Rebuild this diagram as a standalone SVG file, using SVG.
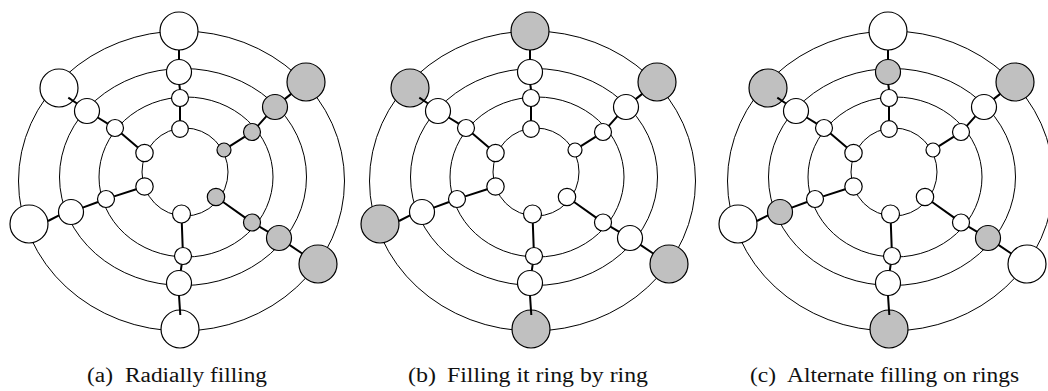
<svg xmlns="http://www.w3.org/2000/svg" width="1048" height="391" viewBox="0 0 1048 391">
  <style>
    .ring{fill:none;stroke:#000;stroke-width:1}
    .node circle{stroke:#000;stroke-width:1.2;fill:#fff}
    .node.full circle{fill:#c0c0c0}
    .spoke{fill:none;stroke:#000;stroke-width:2}
    .cap{font-family:"Liberation Serif","Times New Roman",serif;font-size:20px;fill:#111}
  </style>
  <rect width="1048" height="391" fill="#fff"/>

  <!-- (a) radial filling: the two right-hand spokes are filled -->
  <g id="fig-a">
    <g id="a-rings">
      <ellipse class="ring" cx="181.5" cy="181" rx="163" ry="150"/>
      <ellipse class="ring" cx="183" cy="177" rx="123.5" ry="108.5"/>
      <ellipse class="ring" cx="186" cy="177" rx="87" ry="80"/>
      <ellipse class="ring" cx="185" cy="172" rx="43" ry="44"/>
    </g>
    <g id="a-nodes">
      <g id="a-r1-t" class="node"><circle cx="180" cy="129" r="8.3"/></g>
      <g id="a-r1-ul" class="node"><circle cx="144.5" cy="153" r="8.7"/></g>
      <g id="a-r1-ll" class="node"><circle cx="144.5" cy="186.5" r="8.7"/></g>
      <g id="a-r1-b" class="node"><circle cx="181.5" cy="214" r="9"/></g>
      <g id="a-r1-lr" class="node full"><circle cx="216" cy="197" r="8.7"/></g>
      <g id="a-r1-ur" class="node full"><circle cx="224" cy="150" r="7"/></g>
      <g id="a-r2-t" class="node"><circle cx="180" cy="98" r="8.5"/></g>
      <g id="a-r2-ul" class="node"><circle cx="115" cy="128" r="8.5"/></g>
      <g id="a-r2-ll" class="node"><circle cx="106" cy="199" r="8.5"/></g>
      <g id="a-r2-b" class="node"><circle cx="183" cy="256" r="8.5"/></g>
      <g id="a-r2-lr" class="node full"><circle cx="252" cy="222.5" r="8.5"/></g>
      <g id="a-r2-ur" class="node full"><circle cx="252" cy="132" r="8.5"/></g>
      <g id="a-r3-t" class="node"><circle cx="179" cy="72" r="12.5"/></g>
      <g id="a-r3-ul" class="node"><circle cx="87" cy="111" r="12.5"/></g>
      <g id="a-r3-ll" class="node"><circle cx="71" cy="212" r="12.5"/></g>
      <g id="a-r3-b" class="node"><circle cx="179" cy="283" r="12.5"/></g>
      <g id="a-r3-lr" class="node full"><circle cx="279" cy="238" r="12.5"/></g>
      <g id="a-r3-ur" class="node full"><circle cx="275" cy="107" r="12.5"/></g>
      <g id="a-r4-t" class="node"><circle cx="179" cy="31" r="19"/></g>
      <g id="a-r4-ul" class="node"><circle cx="59" cy="88" r="19"/></g>
      <g id="a-r4-ll" class="node"><circle cx="29" cy="224" r="19"/></g>
      <g id="a-r4-b" class="node"><circle cx="180" cy="329" r="19"/></g>
      <g id="a-r4-lr" class="node full"><circle cx="318" cy="264" r="19"/></g>
      <g id="a-r4-ur" class="node full"><circle cx="306" cy="82" r="19"/></g>
    </g>
    <g id="a-connectors">
      <path class="spoke" d="M180 120.7L180 106.5M180 89.5L179.3 84.5M179 59.5L179 50"/>
      <path class="spoke" d="M137.9 147.4L121.5 133.5M107.7 123.6L97.7 117.5M77 103.5L68.3 97.7"/>
      <path class="spoke" d="M136.2 189.2L114.1 196.4M98 202L82.7 207.6M59 215.4L48 221"/>
      <path class="spoke" d="M181.8 223L182.7 247.5M181.7 264.4L180.8 270.6M179 295.5L180.3 315"/>
      <path class="spoke" d="M223.1 202L245.1 217.6M259.4 226.7L268.2 231.8M289.4 244.9L302.2 253.5"/>
      <path class="spoke" d="M229.9 146.2L244.9 136.6M257.8 125.8L266.5 116.2M284.7 99.1L291.2 93.9"/>
    </g>
  </g>

  <!-- (b) ring-by-ring filling: the outer ring is filled -->
  <g id="fig-b" transform="translate(351 0)">
    <g id="b-rings">
      <ellipse class="ring" cx="181.5" cy="181" rx="163" ry="150"/>
      <ellipse class="ring" cx="183" cy="177" rx="123.5" ry="108.5"/>
      <ellipse class="ring" cx="186" cy="177" rx="87" ry="80"/>
      <ellipse class="ring" cx="185" cy="172" rx="43" ry="44"/>
    </g>
    <g id="b-nodes">
      <g id="b-r1-t" class="node"><circle cx="180" cy="129" r="8.3"/></g>
      <g id="b-r1-ul" class="node"><circle cx="144.5" cy="153" r="8.7"/></g>
      <g id="b-r1-ll" class="node"><circle cx="144.5" cy="186.5" r="8.7"/></g>
      <g id="b-r1-b" class="node"><circle cx="181.5" cy="214" r="9"/></g>
      <g id="b-r1-lr" class="node"><circle cx="216" cy="197" r="8.7"/></g>
      <g id="b-r1-ur" class="node"><circle cx="224" cy="150" r="7"/></g>
      <g id="b-r2-t" class="node"><circle cx="180" cy="98" r="8.5"/></g>
      <g id="b-r2-ul" class="node"><circle cx="115" cy="128" r="8.5"/></g>
      <g id="b-r2-ll" class="node"><circle cx="106" cy="199" r="8.5"/></g>
      <g id="b-r2-b" class="node"><circle cx="183" cy="256" r="8.5"/></g>
      <g id="b-r2-lr" class="node"><circle cx="252" cy="222.5" r="8.5"/></g>
      <g id="b-r2-ur" class="node"><circle cx="252" cy="132" r="8.5"/></g>
      <g id="b-r3-t" class="node"><circle cx="179" cy="72" r="12.5"/></g>
      <g id="b-r3-ul" class="node"><circle cx="87" cy="111" r="12.5"/></g>
      <g id="b-r3-ll" class="node"><circle cx="71" cy="212" r="12.5"/></g>
      <g id="b-r3-b" class="node"><circle cx="179" cy="283" r="12.5"/></g>
      <g id="b-r3-lr" class="node"><circle cx="279" cy="238" r="12.5"/></g>
      <g id="b-r3-ur" class="node"><circle cx="275" cy="107" r="12.5"/></g>
      <g id="b-r4-t" class="node full"><circle cx="179" cy="31" r="19"/></g>
      <g id="b-r4-ul" class="node full"><circle cx="59" cy="88" r="19"/></g>
      <g id="b-r4-ll" class="node full"><circle cx="29" cy="224" r="19"/></g>
      <g id="b-r4-b" class="node full"><circle cx="180" cy="329" r="19"/></g>
      <g id="b-r4-lr" class="node full"><circle cx="318" cy="264" r="19"/></g>
      <g id="b-r4-ur" class="node full"><circle cx="306" cy="82" r="19"/></g>
    </g>
    <g id="b-connectors">
      <path class="spoke" d="M180 120.7L180 106.5M180 89.5L179.3 84.5M179 59.5L179 50"/>
      <path class="spoke" d="M137.9 147.4L121.5 133.5M107.7 123.6L97.7 117.5M77 103.5L68.3 97.7"/>
      <path class="spoke" d="M136.2 189.2L114.1 196.4M98 202L82.7 207.6M59 215.4L48 221"/>
      <path class="spoke" d="M181.8 223L182.7 247.5M181.7 264.4L180.8 270.6M179 295.5L180.3 315"/>
      <path class="spoke" d="M223.1 202L245.1 217.6M259.4 226.7L268.2 231.8M289.4 244.9L302.2 253.5"/>
      <path class="spoke" d="M229.9 146.2L244.9 136.6M257.8 125.8L266.5 116.2M284.7 99.1L291.2 93.9"/>
    </g>
  </g>

  <!-- (c) alternate filling on the two outer rings -->
  <g id="fig-c" transform="translate(709 0)">
    <g id="c-rings">
      <ellipse class="ring" cx="181.5" cy="181" rx="163" ry="150"/>
      <ellipse class="ring" cx="183" cy="177" rx="123.5" ry="108.5"/>
      <ellipse class="ring" cx="186" cy="177" rx="87" ry="80"/>
      <ellipse class="ring" cx="185" cy="172" rx="43" ry="44"/>
    </g>
    <g id="c-nodes">
      <g id="c-r1-t" class="node"><circle cx="180" cy="129" r="8.3"/></g>
      <g id="c-r1-ul" class="node"><circle cx="144.5" cy="153" r="8.7"/></g>
      <g id="c-r1-ll" class="node"><circle cx="144.5" cy="186.5" r="8.7"/></g>
      <g id="c-r1-b" class="node"><circle cx="181.5" cy="214" r="9"/></g>
      <g id="c-r1-lr" class="node"><circle cx="216" cy="197" r="8.7"/></g>
      <g id="c-r1-ur" class="node"><circle cx="224" cy="150" r="7"/></g>
      <g id="c-r2-t" class="node"><circle cx="180" cy="98" r="8.5"/></g>
      <g id="c-r2-ul" class="node"><circle cx="115" cy="128" r="8.5"/></g>
      <g id="c-r2-ll" class="node"><circle cx="106" cy="199" r="8.5"/></g>
      <g id="c-r2-b" class="node"><circle cx="183" cy="256" r="8.5"/></g>
      <g id="c-r2-lr" class="node"><circle cx="252" cy="222.5" r="8.5"/></g>
      <g id="c-r2-ur" class="node"><circle cx="252" cy="132" r="8.5"/></g>
      <g id="c-r3-t" class="node full"><circle cx="179" cy="72" r="12.5"/></g>
      <g id="c-r3-ul" class="node"><circle cx="87" cy="111" r="12.5"/></g>
      <g id="c-r3-ll" class="node full"><circle cx="71" cy="212" r="12.5"/></g>
      <g id="c-r3-b" class="node"><circle cx="179" cy="283" r="12.5"/></g>
      <g id="c-r3-lr" class="node full"><circle cx="279" cy="238" r="12.5"/></g>
      <g id="c-r3-ur" class="node"><circle cx="275" cy="107" r="12.5"/></g>
      <g id="c-r4-t" class="node"><circle cx="179" cy="31" r="19"/></g>
      <g id="c-r4-ul" class="node full"><circle cx="59" cy="88" r="19"/></g>
      <g id="c-r4-ll" class="node"><circle cx="29" cy="224" r="19"/></g>
      <g id="c-r4-b" class="node full"><circle cx="180" cy="329" r="19"/></g>
      <g id="c-r4-lr" class="node"><circle cx="318" cy="264" r="19"/></g>
      <g id="c-r4-ur" class="node full"><circle cx="306" cy="82" r="19"/></g>
    </g>
    <g id="c-connectors">
      <path class="spoke" d="M180 120.7L180 106.5M180 89.5L179.3 84.5M179 59.5L179 50"/>
      <path class="spoke" d="M137.9 147.4L121.5 133.5M107.7 123.6L97.7 117.5M77 103.5L68.3 97.7"/>
      <path class="spoke" d="M136.2 189.2L114.1 196.4M98 202L82.7 207.6M59 215.4L48 221"/>
      <path class="spoke" d="M181.8 223L182.7 247.5M181.7 264.4L180.8 270.6M179 295.5L180.3 315"/>
      <path class="spoke" d="M223.1 202L245.1 217.6M259.4 226.7L268.2 231.8M289.4 244.9L302.2 253.5"/>
      <path class="spoke" d="M229.9 146.2L244.9 136.6M257.8 125.8L266.5 116.2M284.7 99.1L291.2 93.9"/>
    </g>
  </g>

  <!-- sub-figure captions -->
  <g id="captions">
    <text class="cap" y="382"><tspan x="87" textLength="26" lengthAdjust="spacingAndGlyphs">(a)</tspan><tspan x="125" textLength="142" lengthAdjust="spacingAndGlyphs">Radially filling</tspan></text>
    <text class="cap" y="382"><tspan x="408" textLength="28" lengthAdjust="spacingAndGlyphs">(b)</tspan><tspan x="447" textLength="201" lengthAdjust="spacingAndGlyphs">Filling it ring by ring</tspan></text>
    <text class="cap" y="382"><tspan x="750" textLength="26" lengthAdjust="spacingAndGlyphs">(c)</tspan><tspan x="787" textLength="232" lengthAdjust="spacingAndGlyphs">Alternate filling on rings</tspan></text>
  </g>
</svg>
